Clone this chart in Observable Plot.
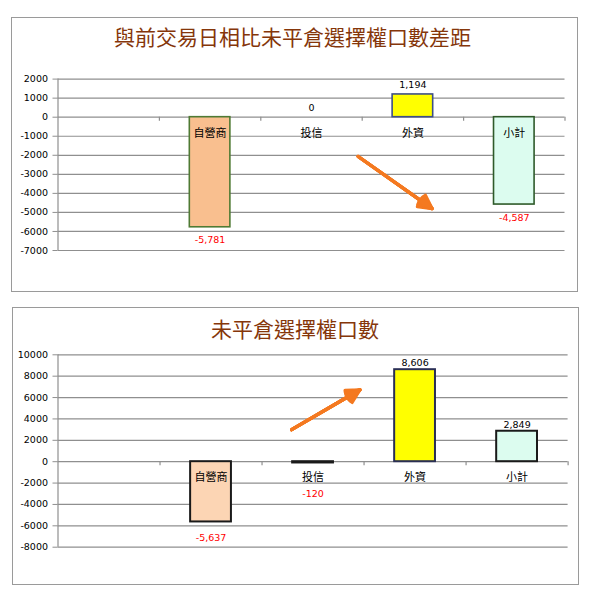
<!DOCTYPE html>
<html><head><meta charset="utf-8">
<script src="https://cdn.jsdelivr.net/npm/d3@7"></script>
<script src="https://cdn.jsdelivr.net/npm/@observablehq/plot@0.6"></script>
<style>
html,body{margin:0;padding:0;background:#fff;width:595px;height:599px;overflow:hidden;position:relative}
.box{position:absolute;box-sizing:border-box;border:1.5px solid #9a9a9a;}
.title{position:absolute;width:595px;text-align:center;font-family:"Noto Sans CJK TC";font-size:21px;color:#85360a;line-height:24px;white-space:nowrap}
.chart{position:absolute;left:0;}
</style></head><body>
<div class="box" style="left:11px;top:17px;width:567px;height:275px"></div>
<div class="title" style="left:-5px;top:24px">與前交易日相比未平倉選擇權口數差距</div>
<div class="chart" id="c1" style="top:60px"></div>
<div class="box" style="left:12px;top:307px;width:567px;height:278px"></div>
<div class="title" style="left:-2.5px;top:316px">未平倉選擇權口數</div>
<div class="chart" id="c2" style="top:345px"></div>
<script>
// ---- data ----
const categories = ["", "自營商", "投信", "外資", "小計"];
const changeValues = [null, -5781, 0, 1194, -4587];          // 與前交易日相比未平倉選擇權口數差距
const openInterestValues = [null, -5637, -120, 8606, 2849];  // 未平倉選擇權口數
const changeTicks = [2000, 1000, 0, -1000, -2000, -3000, -4000, -5000, -6000, -7000];
const openInterestTicks = [10000, 8000, 6000, 4000, 2000, 0, -2000, -4000, -6000, -8000];
// annotation arrows (data units: x = category index, y = value)
const changeArrow = [{x1: 2.46, y1: -2066, x2: 3.19, y2: -4800}];
const openInterestArrow = [{x1: 1.79, y1: 2990, x2: 2.46, y2: 6730}];

const fmt = d3.formatLocale({decimal: ".", thousands: ",", grouping: [3], currency: ["", ""], minus: "-"}).format(",");

function chart(el, o) {
  const rows = categories.map((c, i) => ({c, i, v: o.values[i]})).filter(d => d.v != null);
  const ext = [d3.min(o.ticks), d3.max(o.ticks)];
  const bounds = d3.range(1, categories.length + 1).map(i => i - 0.5);
  const headAngles = [56, 44, 32, 20, 8];
  const p = Plot.plot({
    width: 595, height: o.height,
    marginLeft: 57.5, marginRight: o.marginRight, marginTop: o.marginTop, marginBottom: o.marginBottom,
    x: {type: "linear", domain: [-0.5, categories.length - 0.5], axis: null},
    y: {domain: ext, axis: null, label: null},
    color: {type: "identity"},
    style: {background: "transparent", fontFamily: "DejaVu Sans", overflow: "visible"},
    marks: [
      Plot.ruleY(o.ticks, {stroke: "#8f8f8f", strokeWidth: 1.2}),
      Plot.ruleX([-0.5], {y1: ext[0], y2: ext[1], stroke: "#8f8f8f", strokeWidth: 1.2}),
      Plot.ruleX(bounds, {y1: 0, y2: 0, insetBottom: -4, stroke: "#8f8f8f", strokeWidth: 1.2}),
      Plot.axisY({ticks: o.ticks, tickSize: 5, tickPadding: 5, tickFormat: d => String(d), fontSize: 9.5, stroke: "#8f8f8f", fill: "#000", label: null}),
      Plot.rectY(rows.filter(d => d.v !== 0), {
        x1: d => d.i - 0.2, x2: d => d.i + 0.2, y1: 0, y2: "v",
        fill: d => o.fills[d.i], stroke: d => o.strokes[d.i], strokeWidth: o.strokeWidth
      }),
      Plot.text(rows, {x: "i", y: 0, text: "c", dy: 16, fontSize: 11, fontFamily: "Noto Sans CJK TC", fill: "#000"}),
      Plot.text(rows.filter(d => d.v >= 0), {x: "i", y: "v", text: d => fmt(d.v), dy: o.posDy, fontSize: 9.5, fill: "#000"}),
      Plot.text(rows.filter(d => d.v < 0), {x: "i", y: d => Math.min(d.v, -o.clear), text: d => fmt(d.v), dy: o.negDy, fontSize: 9.5, fill: "#ff0000"}),
      ...headAngles.map(a => Plot.arrow(o.arrow, {x1: "x1", y1: "y1", x2: "x2", y2: "y2", stroke: "#f47920", strokeWidth: 3.2, headLength: 7, headAngle: a}))
    ]
  });
  document.getElementById(el).appendChild(p);
}

chart("c1", {
  values: changeValues, ticks: changeTicks, arrow: changeArrow,
  height: 210, marginTop: 18.6, marginBottom: 20, marginRight: 30.5,
  fills: ["none", "#f9bf8f", "none", "#ffff00", "#dcfcef"],
  strokes: ["none", "#4f7a34", "none", "#3e4f86", "#2f5a2a"],
  strokeWidth: 1.6, posDy: -9.5, negDy: 13, clear: 0
});
chart("c2", {
  values: openInterestValues, ticks: openInterestTicks, arrow: openInterestArrow,
  height: 220, marginTop: 9.3, marginBottom: 18.3, marginRight: 27.4,
  fills: ["none", "#fcd5b4", "#222", "#ffff00", "#dcfcef"],
  strokes: ["none", "#1a1a1a", "#1a1a1a", "#2a2f55", "#1a1a1a"],
  strokeWidth: 2, posDy: -6.5, negDy: 16, clear: 1560
});
</script>
</body></html>
